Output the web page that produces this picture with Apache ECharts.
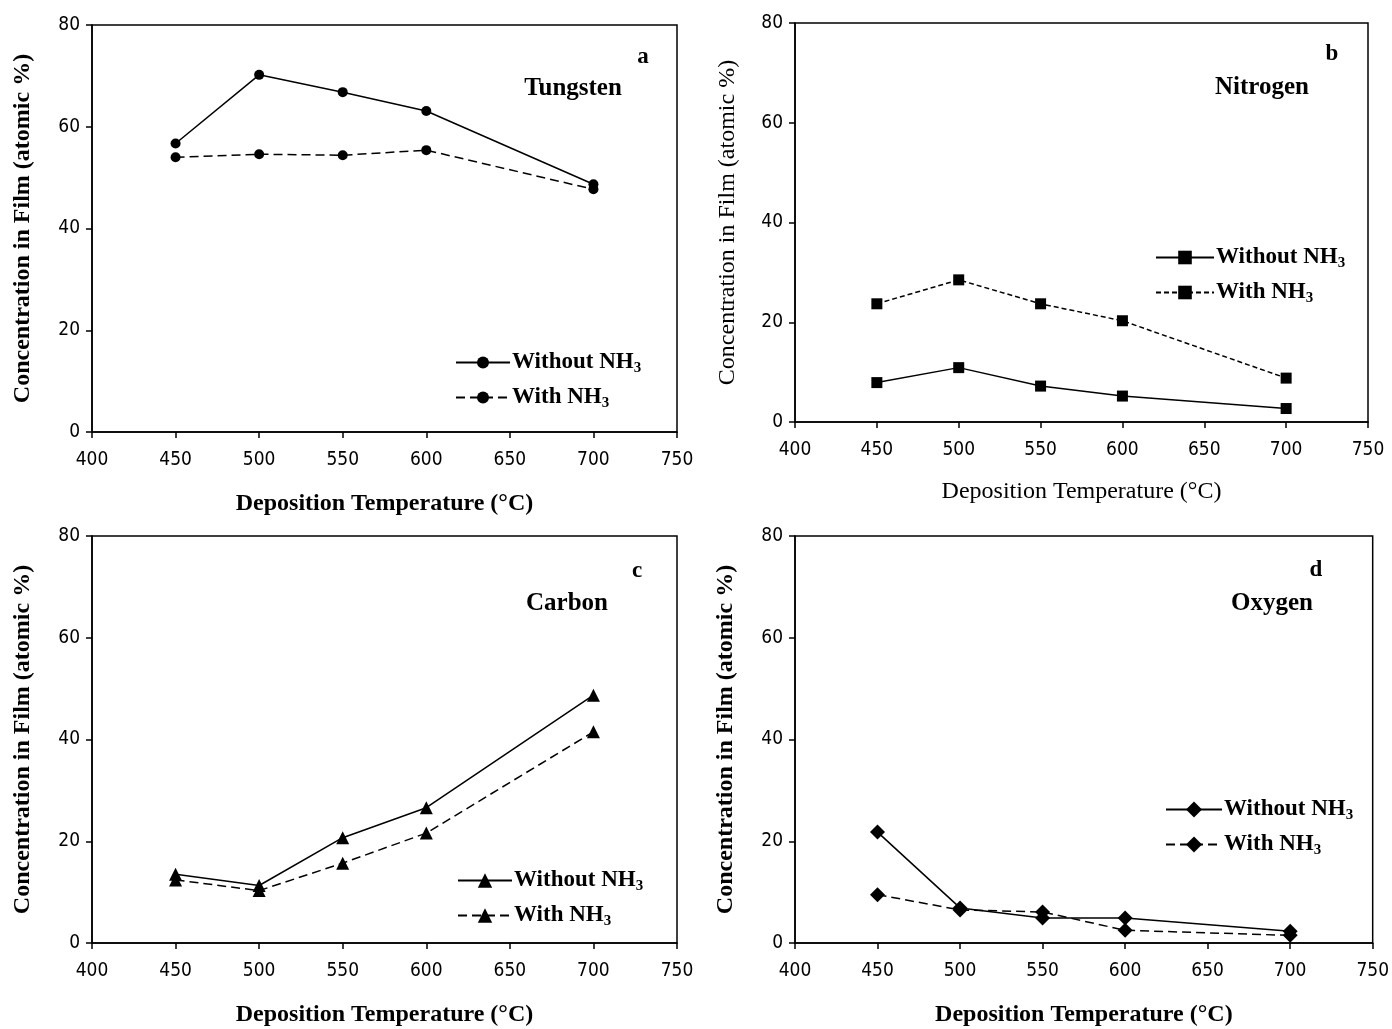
<!DOCTYPE html>
<html>
<head>
<meta charset="utf-8">
<script src="https://cdn.jsdelivr.net/npm/echarts@6/dist/echarts.min.js"></script>
<style>
  html, body { margin: 0; padding: 0; background: #fff; }
  #chart { width: 1392px; height: 1029px; }
</style>
</head>
<body>
<div id="chart"></div>
<script>
// deposition temperatures (°C)
const temps = [450, 500, 550, 600, 700]

// concentration in film (atomic %)
const tungstenWithout = [56.7, 70.2, 66.8, 63.1, 48.7]
const tungstenWith = [54.0, 54.6, 54.4, 55.4, 47.7]
const nitrogenWithout = [7.9, 10.9, 7.2, 5.2, 2.7]
const nitrogenWith = [23.7, 28.5, 23.7, 20.3, 8.8]
const carbonWithout = [13.5, 11.3, 20.7, 26.6, 48.7]
const carbonWith = [12.4, 10.3, 15.7, 21.6, 41.5]
const oxygenWithout = [21.8, 6.9, 4.9, 4.9, 2.3]
const oxygenWith = [9.5, 6.5, 6.1, 2.5, 1.5]

const xTicks = { min: 400, max: 750, interval: 50 }
const yTicks = { min: 0, max: 80, interval: 20 }

const panels = [
  { key: 'a', element: 'Tungsten', without: tungstenWithout, withN: tungstenWith, symbol: 'circle', size: 10,
    grid: { left: 92, top: 25, width: 585, height: 407 }, bold: true, dash: [9, 5],
    legend: { left: 450, top: 344 }, legendW: 54, iconH: 15,
    tag: [643, 57], label: [573, 89] },
  { key: 'b', element: 'Nitrogen', without: nitrogenWithout, withN: nitrogenWith, symbol: 'rect', size: 11,
    grid: { left: 795, top: 23, width: 573, height: 399 }, bold: false, dash: [5, 3],
    legend: { left: 1150, top: 239 }, legendW: 58, iconH: 17,
    tag: [1332, 54], label: [1262, 88] },
  { key: 'c', element: 'Carbon', without: carbonWithout, withN: carbonWith, symbol: 'triangle', size: 13,
    grid: { left: 92, top: 536, width: 585, height: 407 }, bold: true, dash: [9, 5],
    legend: { left: 452, top: 862 }, legendW: 54, iconH: 18,
    tag: [637, 571], label: [567, 604] },
  { key: 'd', element: 'Oxygen', without: oxygenWithout, withN: oxygenWith, symbol: 'diamond', size: 15,
    grid: { left: 795, top: 536, width: 585, height: 407 }, bold: true, dash: [9, 5],
    legend: { left: 1160, top: 791 }, legendW: 56, iconH: 20,
    tag: [1316, 570], label: [1272, 604] }
]

const serif = 'Liberation Serif, Times New Roman, serif'
const narrow = 'Liberation Sans Narrow, DejaVu Sans Condensed, sans-serif'

const grids = [], xAxes = [], yAxes = [], series = [], legends = [], graphics = []

panels.forEach((p, i) => {
  const weight = p.bold ? 'bold' : 'normal'
  grids.push(Object.assign({ show: true, borderColor: '#000', borderWidth: 1.5, backgroundColor: 'transparent' }, p.grid))
  xAxes.push({
    type: 'value', gridIndex: i, min: xTicks.min, max: xTicks.max, interval: xTicks.interval,
    name: 'Deposition Temperature (°C)', nameLocation: 'middle', nameGap: p.key === 'b' ? 58 : 60,
    nameTextStyle: { fontFamily: serif, fontSize: 24, fontWeight: weight, color: '#000' },
    axisLine: { lineStyle: { color: '#000', width: 1.5 } },
    axisTick: { inside: false, length: 6, lineStyle: { color: '#000', width: 1.5 } },
    axisLabel: { fontFamily: narrow, fontSize: 19, color: '#000', margin: 19 },
    splitLine: { show: false }
  })
  yAxes.push({
    type: 'value', gridIndex: i, min: yTicks.min, max: yTicks.max, interval: yTicks.interval,
    name: 'Concentration in Film (atomic %)', nameLocation: 'middle', nameGap: p.key === 'b' ? 55 : 57,
    nameTextStyle: { fontFamily: serif, fontSize: 24, fontWeight: weight, color: '#000' },
    axisLine: { lineStyle: { color: '#000', width: 1.5 } },
    axisTick: { inside: false, length: 6, lineStyle: { color: '#000', width: 1.5 } },
    axisLabel: { fontFamily: narrow, fontSize: 19, color: '#000', margin: 12 },
    splitLine: { show: false }
  })
  const nameWithout = 'Without NH3 ' + p.key
  const nameWith = 'With NH3 ' + p.key
  series.push({
    name: nameWithout, type: 'line', xAxisIndex: i, yAxisIndex: i,
    data: temps.map((t, j) => [t, p.without[j]]),
    symbol: p.symbol, symbolSize: p.size, showSymbol: true,
    lineStyle: { color: '#000', width: 1.5, type: 'solid' },
    itemStyle: { color: '#000' }, animation: false, z: 3
  })
  series.push({
    name: nameWith, type: 'line', xAxisIndex: i, yAxisIndex: i,
    data: temps.map((t, j) => [t, p.withN[j]]),
    symbol: p.symbol, symbolSize: p.size, showSymbol: true,
    lineStyle: { color: '#000', width: 1.5, type: p.dash },
    itemStyle: { color: '#000' }, animation: false, z: 3
  })
  legends.push({
    data: [nameWithout, nameWith], orient: 'vertical',
    left: p.legend.left, top: p.legend.top,
    itemWidth: p.legendW, itemHeight: p.iconH, itemGap: 8,
    selectedMode: false,
    formatter: n => n.startsWith('Without') ? '{t|Without NH}{s|3}' : '{t|With NH}{s|3}',
    textStyle: {
      padding: [0, 0, 0, -3],
      rich: {
        t: { fontFamily: serif, fontSize: 23, fontWeight: 'bold', color: '#000', lineHeight: 26 },
        s: { fontFamily: serif, fontSize: 15, fontWeight: 'bold', color: '#000', lineHeight: 26, padding: [12, 0, 0, 0] }
      }
    }
  })
  graphics.push({
    type: 'text', x: p.tag[0], y: p.tag[1],
    style: { text: p.key, fontFamily: serif, fontSize: 23, fontWeight: 'bold', fill: '#000', align: 'center', verticalAlign: 'middle' }
  })
  graphics.push({
    type: 'text', x: p.label[0], y: p.label[1],
    style: { text: p.element, fontFamily: serif, fontSize: 25, fontWeight: 'bold', fill: '#000', align: 'center', verticalAlign: 'middle' }
  })
})

const chart = echarts.init(document.getElementById('chart'), null, { renderer: 'canvas' })
chart.setOption({
  backgroundColor: '#fff',
  animation: false,
  grid: grids,
  xAxis: xAxes,
  yAxis: yAxes,
  legend: legends,
  series: series,
  graphic: graphics
})
</script>
</body>
</html>
